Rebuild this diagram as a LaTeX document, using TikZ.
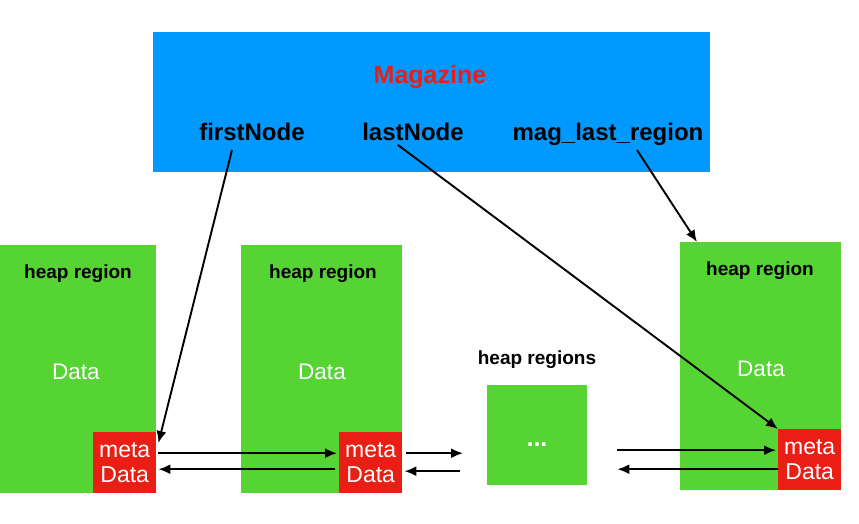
\documentclass[tikz,border=0pt]{standalone}
\usepackage{fontspec}
\setmainfont{Liberation Sans}
\usetikzlibrary{positioning}
\usetikzlibrary{arrows.meta}
\usetikzlibrary{calc}

\definecolor{magblue}{RGB}{0,153,255}
\definecolor{heapgreen}{RGB}{86,212,52}
\definecolor{metared}{RGB}{234,30,20}

\begin{document}
\begin{tikzpicture}[x=1pt,y=-1pt,
    region/.style={fill=heapgreen,inner sep=0,anchor=north west},
    metabox/.style={fill=metared,inner sep=0,anchor=north west,minimum width=63pt,minimum height=61pt,
        text=white,align=center,font=\fontsize{23}{25}\selectfont},
    title/.style={font=\bfseries\fontsize{19}{22}\selectfont,anchor=base},
    datalabel/.style={text=white,font=\fontsize{22.5}{26}\selectfont,anchor=base},
    field/.style={font=\bfseries\fontsize{24}{28}\selectfont,inner sep=0,anchor=base},
    ptr/.style={-{Latex[length=12pt,width=10pt]},line width=1.9pt}]
    \useasboundingbox (0,0) rectangle (859,523);

    % Magazine
    \node[fill=magblue,inner sep=0,anchor=north west,minimum width=557pt,minimum height=140pt] (mag) at (153,32) {};
    \node[text=metared,anchor=base,font=\bfseries\fontsize{25}{28}\selectfont] (magtitle) at (430,83) {Magazine};
    \node[field] (first) at (252,140) {firstNode};
    \node[field] (last) at (413,140) {lastNode};
    \node[field] (lastreg) at (608,140) {mag\_last\_region};

    % heap regions
    \node[region,minimum width=156pt,minimum height=248pt] (h1) at (0,245) {};
    \node[region,minimum width=161pt,minimum height=248pt] (h2) at (241,245) {};
    \node[region,minimum width=100pt,minimum height=100pt] (dots) at (487,385) {};
    \node[region,minimum width=161pt,minimum height=248pt] (h4) at (680,242) {};

    \node[title] (t1) at (78,278) {heap region};
    \node[title] (t2) at (323,278) {heap region};
    \node[title] (t3) at (537,364) {heap regions};
    \node[title] (t4) at (760,275) {heap region};

    \node[datalabel] (d1) at (76,379) {Data};
    \node[datalabel] (d2) at (322,379) {Data};
    \node[text=white,anchor=base,font=\bfseries\fontsize{25}{28}\selectfont] (etc) at (537,446) {...};
    \node[datalabel] (d4) at (761,376) {Data};

    % meta data
    \node[metabox] (m1) at (93,432) {meta\\Data};
    \node[metabox] (m2) at (339,432) {meta\\Data};
    \node[metabox] (m4) at (778,429) {meta\\Data};

    \coordinate (dl) at ([xshift=-24pt]dots.west |- m2.east);
    \coordinate (dr) at ([xshift=30pt]dots.east |- m4.east);

    % pointers
    \draw[ptr] ([xshift=-20pt,yshift=-10pt]first.base) -- ([xshift=2pt,yshift=-11pt]m1.north east);
    \draw[ptr] ([xshift=-15pt,yshift=-5pt]last.base) -- (m4.north west);
    \draw[ptr] ([xshift=29pt,yshift=-10pt]lastreg.base) -- ([xshift=17pt]h4.north west);

    \draw[ptr] ([xshift=2pt,yshift=9.5pt]m1.east) -- ([xshift=-2pt,yshift=9.5pt]m2.west);
    \draw[ptr] ([xshift=-4pt,yshift=-6.5pt]m2.west) -- ([xshift=2pt,yshift=-6.5pt]m1.east);
    \draw[ptr] ([xshift=4pt,yshift=9.5pt]m2.east) -- ([yshift=9.5pt]dl);
    \draw[ptr] ([xshift=-3pt,yshift=-8.5pt]dl) -- ([xshift=2pt,yshift=-8.5pt]m2.east);
    \draw[ptr] ([yshift=9.5pt]dr) -- ([xshift=-2pt,yshift=9.5pt]m4.west);
    \draw[ptr] ([yshift=-9.5pt]m4.west) -- ([yshift=-9.5pt]dr);
\end{tikzpicture}
\end{document}
